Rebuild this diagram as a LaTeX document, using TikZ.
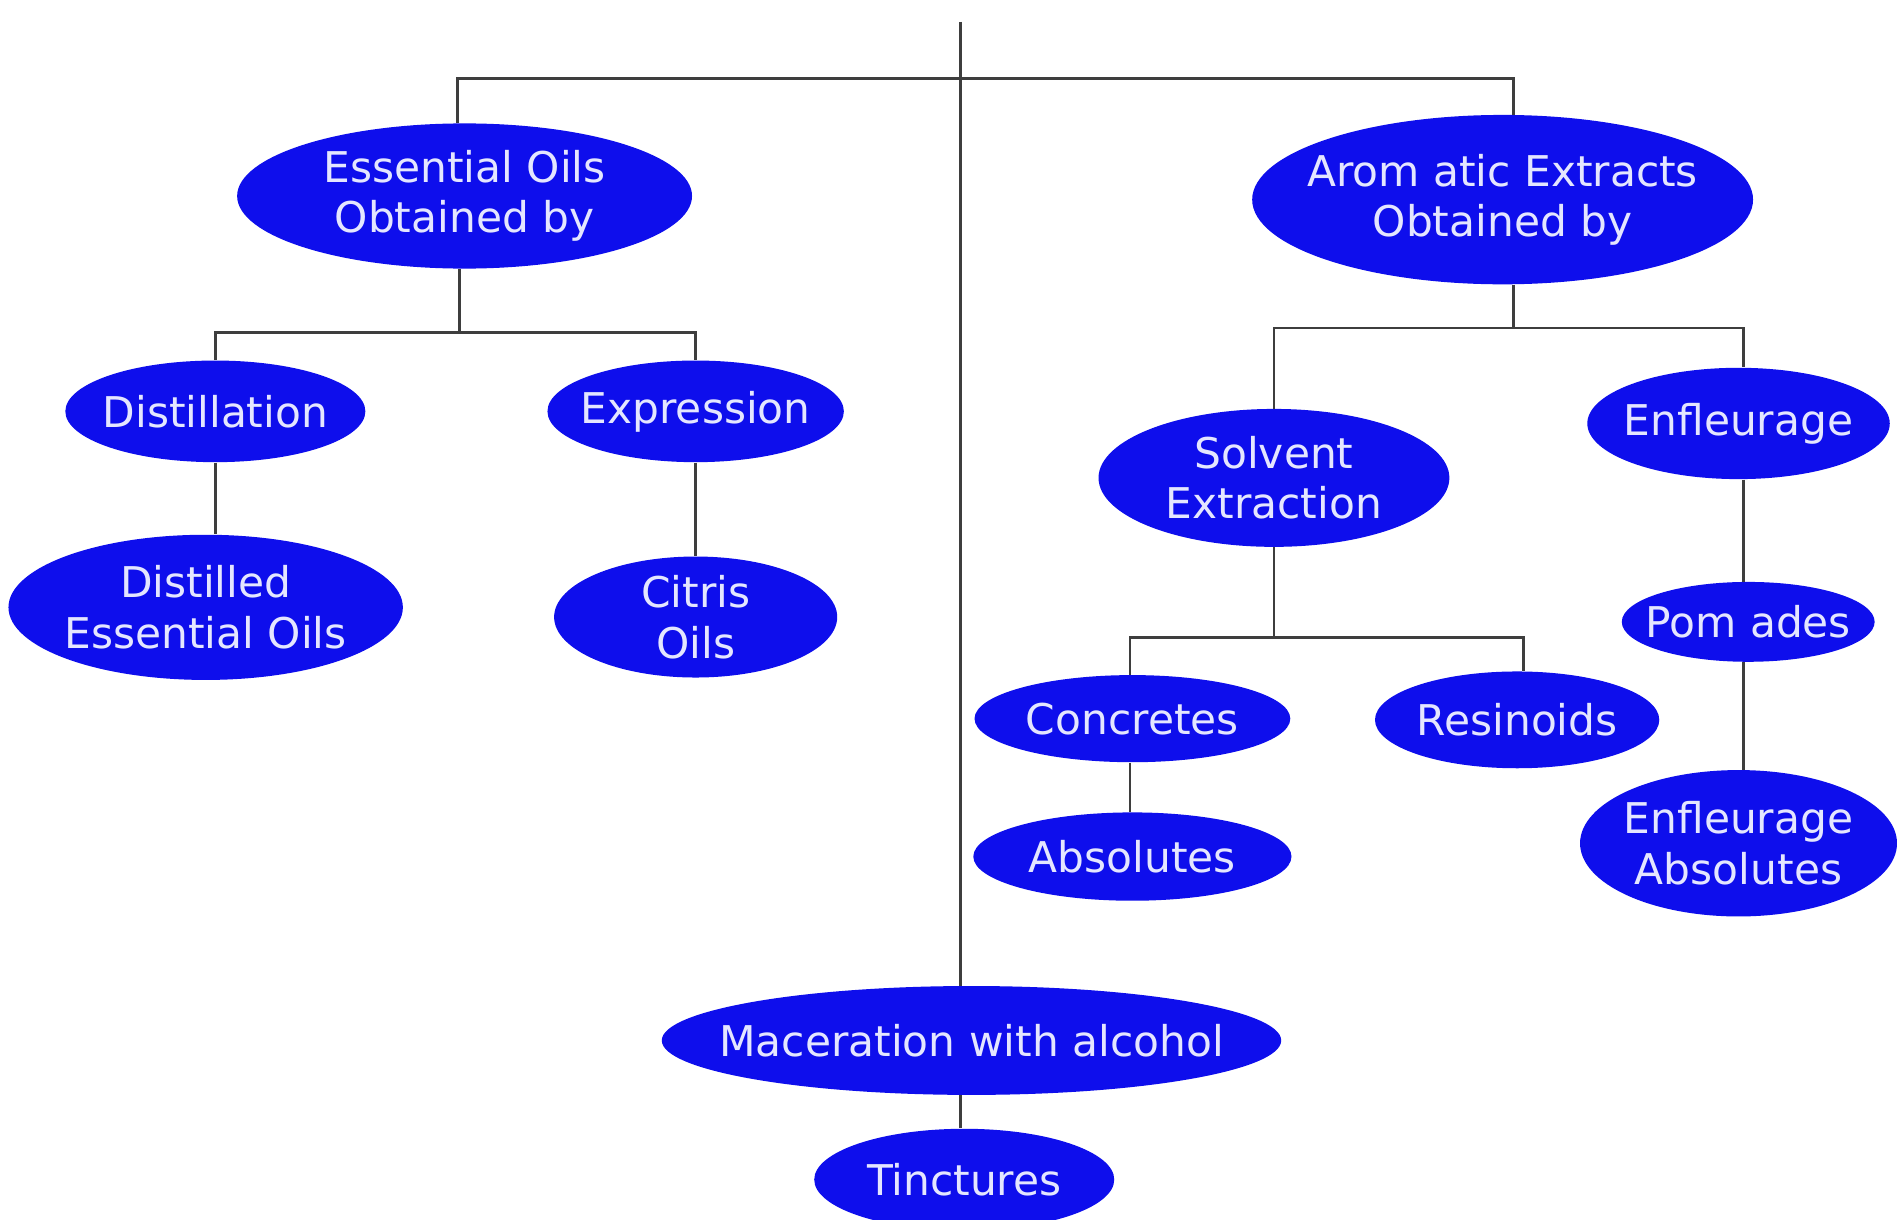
\documentclass[tikz,border=0pt]{standalone}
\usepackage{fontspec}
\setmainfont{DejaVu Sans}
\usetikzlibrary{shapes.geometric}
\definecolor{ovalblue}{RGB}{14,14,236}
\definecolor{ovaltext}{RGB}{228,230,255}
\definecolor{linegray}{RGB}{62,62,62}
\tikzset{
  oval/.style={ellipse, fill=ovalblue, inner sep=0pt},
  ovaltxt/.style={text=ovaltext, inner sep=0pt, align=center,
    font=\fontsize{21}{25}\selectfont},
  conn/.style={draw=linegray, line width=1.3pt}
}
\begin{document}
\begin{tikzpicture}[x=0.6pt,y=-0.6pt]
\useasboundingbox[fill=white] (0,0) rectangle (1568,1008);
% nodes
\node[oval, minimum width=225.6pt, minimum height=72pt, label={[ovaltxt]center:Essential Oils\\Obtained by}] (eo) at (384,162) {};
\node[oval, minimum width=248.4pt, minimum height=84pt, label={[ovaltxt]center:Arom atic Extracts\\Obtained by}] (ae) at (1242,165) {};
\node[oval, minimum width=148.8pt, minimum height=50.4pt, label={[ovaltxt]center:Distillation}] (dist) at (178,340) {};
\node[oval, minimum width=147pt, minimum height=50.4pt, label={[ovaltxt]center:Expression}] (expr) at (575,340) {};
\node[oval, minimum width=195.6pt, minimum height=72pt, label={[ovaltxt]center:Distilled\\Essential Oils}] (deo) at (170,502) {};
\node[oval, minimum width=140.4pt, minimum height=60pt, label={[ovaltxt]center:Citris\\Oils}] (cit) at (575,510) {};
\node[oval, minimum width=174pt, minimum height=68.4pt, label={[ovaltxt]center:Solvent\\Extraction}] (se) at (1053,395) {};
\node[oval, minimum width=150pt, minimum height=55.2pt, label={[ovaltxt]center:Enfleurage}] (enf) at (1437,350) {};
\node[oval, minimum width=156.6pt, minimum height=43.2pt, label={[ovaltxt]center:Concretes}] (conc) at (936,594) {};
\node[oval, minimum width=141pt, minimum height=48pt, label={[ovaltxt]center:Resinoids}] (res) at (1254,595) {};
\node[oval, minimum width=157.8pt, minimum height=43.8pt, label={[ovaltxt]center:Absolutes}] (abs) at (936,708) {};
\node[oval, minimum width=125.4pt, minimum height=39.6pt, label={[ovaltxt]center:Pom ades}] (pom) at (1445,514) {};
\node[oval, minimum width=157.2pt, minimum height=72.6pt, label={[ovaltxt]center:Enfleurage\\Absolutes}] (enfa) at (1437,697) {};
\node[oval, minimum width=307.2pt, minimum height=54pt, label={[ovaltxt]center:Maceration with alcohol}] (mac) at (803,860) {};
\node[oval, minimum width=148.8pt, minimum height=50.4pt, label={[ovaltxt]center:Tinctures}] (tin) at (797,975) {};
% junction coordinates
\coordinate (top) at (794,18);
\coordinate (j1) at (794,65);
\coordinate (j2) at (380,275);
\coordinate (j3) at (1251,271);
\coordinate (j4) at (1053,527);
\coordinate (xl) at (378,0);
\coordinate (xr) at (1251,0);
\coordinate (xe) at (1441,0);
\coordinate (xres) at (1259,0);
\coordinate (xc) at (934,0);
\coordinate (xd) at (178,0);
% connectors
\draw[conn] (top) -- (top |- mac.north);
\draw[conn] (xl |- eo.north) -- (xl |- j1) -- (xr |- j1) -- (xr |- ae.north);
\draw[conn] (j2 |- eo.south) -- (j2);
\draw[conn] (dist.north) -- (dist.north |- j2) -- (expr.north |- j2) -- (expr.north);
\draw[conn] (dist.south) -- (dist.south |- deo.north);
\draw[conn] (expr.south) -- (cit.north);
\draw[conn] (xr |- ae.south) -- (j3);
\draw[conn] (se.north) -- (se.north |- j3) -- (xe |- j3) -- (xe |- enf.north);
\draw[conn] (se.south) -- (j4);
\draw[conn] (xc |- conc.north) -- (xc |- j4) -- (xres |- j4) -- (xres |- res.north);
\draw[conn] (xc |- conc.south) -- (xc |- abs.north);
\draw[conn] (xe |- enf.south) -- (xe |- pom.north);
\draw[conn] (xe |- pom.south) -- (xe |- enfa.north);
\draw[conn] (top |- mac.south) -- (top |- tin.north);
\end{tikzpicture}
\end{document}
